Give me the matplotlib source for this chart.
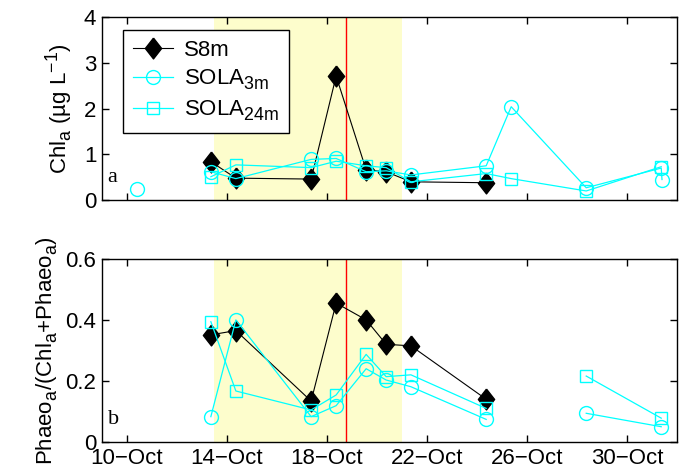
import matplotlib

matplotlib.use("Agg")

import matplotlib.pyplot as plt
import matplotlib.dates as mdates
import matplotlib._mathtext as mathtext_internals
import numpy as np
import pandas as pd

plt.rcParams["font.family"] = ["Liberation Sans", "DejaVu Sans"]
plt.rcParams["mathtext.fontset"] = "custom"
plt.rcParams["mathtext.rm"] = "Liberation Sans"
plt.rcParams["mathtext.it"] = "Liberation Sans"
plt.rcParams["mathtext.bf"] = "Liberation Sans:bold"
# MATLAB-style TeX: bigger, lower sub/superscripts
mathtext_internals.SHRINK_FACTOR = 0.8
mathtext_internals.FontConstantsBase.sub1 = 0.45
mathtext_internals.FontConstantsBase.sub2 = 0.6

# ---------------------------------------------------------------------------
# Data (day of October, fractional)
# ---------------------------------------------------------------------------
s8_day = [13.36, 14.36, 17.37, 18.37, 19.57, 20.37, 21.36, 24.37]
s8_chl = [0.84, 0.48, 0.46, 2.71, 0.66, 0.62, 0.40, 0.38]
s8_ratio = [0.351, 0.365, 0.134, 0.455, 0.40, 0.32, 0.315, 0.14]

nan = np.nan
sola_day = [10.40, 12.00, 13.36, 14.36, 17.37, 18.37, 19.57, 20.37, 21.36,
            24.37, 25.37, 28.37, 31.37, 31.40]
sola3_chl = [0.24, nan, 0.62, 0.47, 0.89, 0.91, 0.62, 0.64, 0.55,
             0.75, 2.04, 0.27, 0.70, 0.45]
sola24_chl = [nan, nan, 0.51, 0.77, 0.71, 0.85, 0.75, 0.71, 0.40,
              0.58, 0.47, 0.20, 0.73, nan]
sola3_ratio = [nan, nan, 0.083, 0.40, 0.083, 0.119, 0.24, 0.203, 0.181,
               0.074, nan, 0.094, 0.050, nan]
sola24_ratio = [nan, nan, 0.394, 0.167, 0.105, 0.154, 0.287, 0.214, 0.22,
                0.11, nan, 0.216, 0.078, nan]

SHADE = (13.5, 21.0)
EVENT_DAY = 18.77
XLIM = (9.0, 32.0)
TICK_DAYS = [10, 14, 18, 22, 26, 30]

BASE = pd.Timestamp("2012-10-01")


def to_date(days):
    return BASE + pd.to_timedelta(np.asarray(days, dtype=float) - 1.0, unit="D")


# MATLAB-ish diamond (a bit narrower than tall)
DIAMOND = [(0, 1), (0.78, 0), (0, -1), (-0.78, 0), (0, 1)]
FS = 16

S8_KW = dict(color="black", lw=0.8, marker=DIAMOND, ms=15, mfc="black",
             mec="black", label="S8m", zorder=2.5)
S3_KW = dict(color="cyan", lw=0.9, marker="o", ms=10, mfc="none",
             mec="cyan", mew=1.0, label=r"SOLA$_{\rm 3m}$", zorder=3)
S24_KW = dict(color="cyan", lw=0.9, marker="s", ms=9, mfc="none",
              mec="cyan", mew=1.0, label=r"SOLA$_{\rm 24m}$", zorder=3)

fig = plt.figure(figsize=(6.88, 4.72), dpi=100)
ax1 = fig.add_axes([0.148, 0.576, 0.836, 0.388])
ax2 = fig.add_axes([0.148, 0.0636, 0.836, 0.388])

for ax in (ax1, ax2):
    ax.axvspan(to_date([SHADE[0]])[0], to_date([SHADE[1]])[0],
               color="#fdfdcc", lw=0, zorder=0)
    ax.axvline(to_date([EVENT_DAY])[0], color="red", lw=1.0, zorder=2)
    ax.set_xlim(to_date(XLIM))
    ax.set_xticks(to_date(TICK_DAYS))
    ax.xaxis.set_major_formatter(mdates.DateFormatter("%d\u2212%b"))
    ax.tick_params(direction="in", top=True, right=True, length=5,
                   labelsize=FS, width=1.0, pad=4)
    for sp in ax.spines.values():
        sp.set_linewidth(1.0)

# Panel a
ax1.plot(to_date(s8_day), s8_chl, **S8_KW)
ax1.plot(to_date(sola_day), sola3_chl, **S3_KW)
ax1.plot(to_date(sola_day), sola24_chl, **S24_KW)
ax1.set_ylim(0, 4)
ax1.set_yticks([0, 1, 2, 3, 4])
ax1.tick_params(labelbottom=False)
ax1.set_ylabel(r"Chl$_{\rm a}$ (µg L$^{-1}$)", fontsize=FS, labelpad=6)
ax1.text(0.010, 0.125, "a", transform=ax1.transAxes, fontsize=FS,
         family="Liberation Serif", va="center")
leg = ax1.legend(loc="upper left", bbox_to_anchor=(0.037, 0.93),
                 fontsize=FS, frameon=True, fancybox=False, borderaxespad=0,
                 handlelength=1.8, labelspacing=0.3, borderpad=0.45,
                 handletextpad=0.5)
leg.get_frame().set_edgecolor("black")
leg.get_frame().set_linewidth(1.0)
leg.get_frame().set_alpha(1.0)

# Panel b
ax2.plot(to_date(s8_day), s8_ratio, **S8_KW)
ax2.plot(to_date(sola_day), sola3_ratio, **S3_KW)
ax2.plot(to_date(sola_day), sola24_ratio, **S24_KW)
ax2.set_ylim(0, 0.6)
ax2.set_yticks([0, 0.2, 0.4, 0.6])
ax2.set_yticklabels(["0", "0.2", "0.4", "0.6"])
ax2.set_ylabel(r"Phaeo$_{\rm a}$/(Chl$_{\rm a}$+Phaeo$_{\rm a}$)",
               fontsize=FS, labelpad=4)
ax2.text(0.010, 0.125, "b", transform=ax2.transAxes, fontsize=FS,
         family="Liberation Serif", va="center")

fig.savefig("out.png", dpi=100)
